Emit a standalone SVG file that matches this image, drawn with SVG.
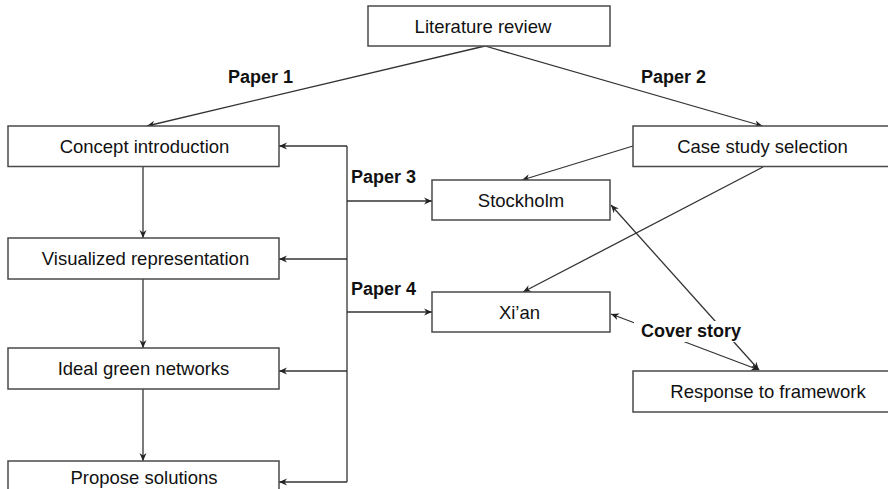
<svg xmlns="http://www.w3.org/2000/svg" width="888" height="489" viewBox="0 0 888 489">
<style>
.box{fill:#fff;stroke:#4a4a4a;stroke-width:1.5}
.t{font-family:"Liberation Sans",Arial,sans-serif;font-size:18.5px;fill:#111;text-anchor:middle}
.lb{font-family:"Liberation Sans",Arial,sans-serif;font-size:18px;font-weight:bold;fill:#111}
.c{fill:none;stroke:#333;stroke-width:1.3}
</style>
<defs>
<marker id="ah" markerUnits="userSpaceOnUse" markerWidth="10" markerHeight="8" refX="8" refY="4" orient="auto-start-reverse">
<path d="M0,0.5 L8,4 L0,7.5 L2.5,4 z" fill="#222"/>
</marker>
</defs>
<rect width="888" height="489" fill="#fff"/>
<g id="connectors">
<line class="c" x1="485" y1="46" x2="147" y2="126" marker-end="url(#ah)"/>
<line class="c" x1="485" y1="46" x2="762.5" y2="126" marker-end="url(#ah)"/>
<line class="c" x1="633" y1="146" x2="522" y2="180" marker-end="url(#ah)"/>
<line class="c" x1="763" y1="167" x2="523" y2="292" marker-end="url(#ah)"/>
<line class="c" x1="143" y1="167" x2="143" y2="238" marker-end="url(#ah)"/>
<line class="c" x1="143" y1="279" x2="143" y2="348" marker-end="url(#ah)"/>
<line class="c" x1="143" y1="389" x2="143" y2="461" marker-end="url(#ah)"/>
<polyline class="c" points="347,146 347,482"/>
<line class="c" x1="347" y1="146" x2="279" y2="146" marker-end="url(#ah)"/>
<line class="c" x1="347" y1="259" x2="279" y2="259" marker-end="url(#ah)"/>
<line class="c" x1="347" y1="371" x2="279" y2="371" marker-end="url(#ah)"/>
<line class="c" x1="347" y1="482" x2="279" y2="482" marker-end="url(#ah)"/>
<line class="c" x1="347" y1="201" x2="432" y2="201" marker-end="url(#ah)"/>
<line class="c" x1="347" y1="312" x2="432" y2="312" marker-end="url(#ah)"/>
<line class="c" x1="759" y1="370" x2="611" y2="205" marker-start="url(#ah)" marker-end="url(#ah)"/>
<line class="c" x1="759" y1="370" x2="611" y2="314" marker-start="url(#ah)" marker-end="url(#ah)"/>
</g>
<g id="labels">
<text class="lb" x="260.5" y="83" text-anchor="middle">Paper 1</text>
<text class="lb" x="673.5" y="83" text-anchor="middle">Paper 2</text>
<text class="lb" x="351" y="183">Paper 3</text>
<text class="lb" x="351" y="295">Paper 4</text>
<rect x="634" y="321" width="113" height="21" fill="#fff"/>
<text class="lb" x="691" y="337" text-anchor="middle">Cover story</text>
</g>
<g id="literature-review"><rect class="box" x="368" y="6" width="242" height="40"/><text class="t" x="483" y="32.5">Literature review</text></g>
<g id="concept-introduction"><rect class="box" x="8" y="126" width="271" height="40.5"/><text class="t" x="144.5" y="153">Concept introduction</text></g>
<g id="visualized-representation"><rect class="box" x="8" y="238" width="271" height="41"/><text class="t" x="145.5" y="264.5">Visualized representation</text></g>
<g id="ideal-green-networks"><rect class="box" x="8" y="348" width="271" height="41"/><text class="t" x="143.5" y="375">Ideal green networks</text></g>
<g id="propose-solutions"><rect class="box" x="8" y="461" width="271" height="41"/><text class="t" x="144" y="484">Propose solutions</text></g>
<g id="case-study-selection"><rect class="box" x="633" y="126" width="260" height="40.5"/><text class="t" x="762.5" y="153">Case study selection</text></g>
<g id="stockholm"><rect class="box" x="432" y="180" width="178" height="40"/><text class="t" x="521" y="206.5">Stockholm</text></g>
<g id="xian"><rect class="box" x="432" y="292" width="178" height="40"/><text class="t" x="519.5" y="318.5">Xi’an</text></g>
<g id="response-to-framework"><rect class="box" x="633" y="371" width="270" height="41"/><text class="t" x="768" y="398">Response to framework</text></g>
</svg>
